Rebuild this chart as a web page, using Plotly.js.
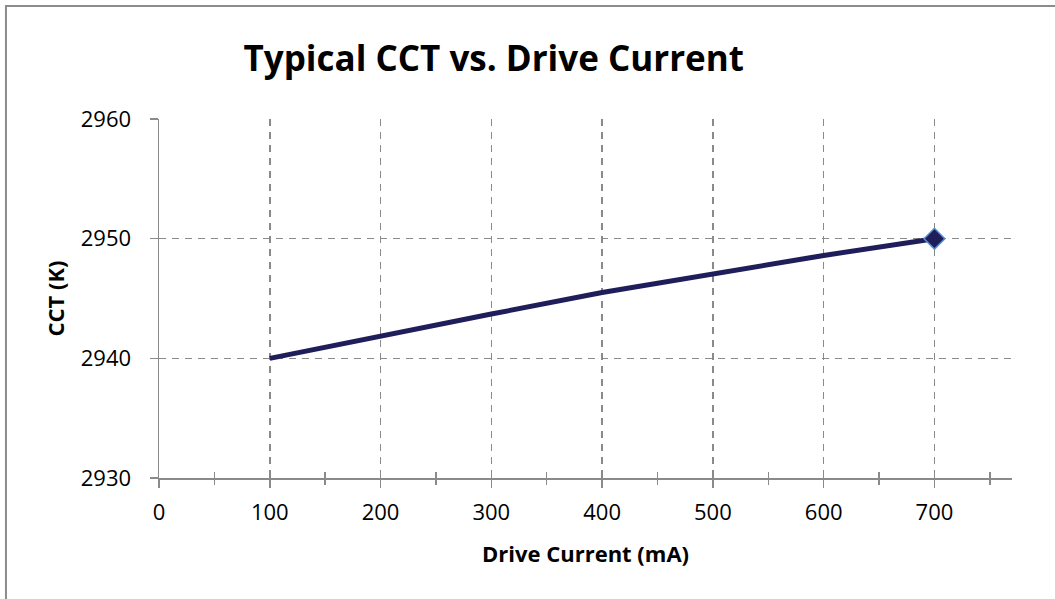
<!DOCTYPE html>
<html>
<head>
<meta charset="utf-8">
<script src="https://cdn.plot.ly/plotly-3.0.1.min.js"></script>
<style>html,body{margin:0;padding:0;background:#fff;}#chart{width:1055px;height:599px;}</style>
</head>
<body>
<div id="chart"></div>
<script>
const driveCurrent = [100, 200, 300, 400, 500, 600, 700];
const cct = [2940, 2941.9, 2943.7, 2945.5, 2947.1, 2948.6, 2950];
const xTickVals = [0, 100, 200, 300, 400, 500, 600, 700];
const yTickVals = [2930, 2940, 2950, 2960];
const titleText = 'Typical CCT vs. Drive Current';
const xTitle = 'Drive Current (mA)';
const yTitle = 'CCT (K)';

const FONT = 'Open Sans, Noto Sans, sans-serif';
const GRID = '#8A8A8A';
const last = driveCurrent.length - 1;

const traces = [
  {x: driveCurrent, y: cct, type: 'scatter', mode: 'lines',
   line: {color: '#1F1D5A', width: 5}, hoverinfo: 'skip', showlegend: false},
  {x: [driveCurrent[last]], y: [cct[last]], type: 'scatter', mode: 'markers',
   marker: {symbol: 'diamond', size: 16, color: '#1F1D5A', line: {color: '#5B8FCF', width: 1.5}},
   hoverinfo: 'skip', showlegend: false},
  {x: driveCurrent, y: cct, xaxis: 'x2', yaxis: 'y2', type: 'scatter', mode: 'lines',
   opacity: 0, hoverinfo: 'skip', showlegend: false}
];

const axisCommon = {linecolor: GRID, linewidth: 1.5, zeroline: false, showline: true};

const layout = {
  width: 1055, height: 599,
  paper_bgcolor: '#fff', plot_bgcolor: '#fff',
  margin: {l: 159, r: 43, t: 119, b: 121, pad: 0},
  showlegend: false,
  title: {text: '<b>' + titleText + '</b>', font: {family: FONT, size: 35, color: '#000'},
          x: 0.468, xref: 'container', xanchor: 'center', y: 0.902, yref: 'container', yanchor: 'middle'},
  xaxis: Object.assign({}, axisCommon, {
    range: [0, 770], tickvals: xTickVals, ticktext: xTickVals.map(String),
    ticks: 'outside', ticklen: 8, tickcolor: GRID, tickwidth: 1.5,
    minor: {ticks: 'outside', ticklen: 5, tickcolor: GRID, tickwidth: 1.5, dtick: 50, tick0: 0, showgrid: false},
    showgrid: true, gridcolor: GRID, gridwidth: 1.5, griddash: '7px,6px',
    tickfont: {family: FONT, size: 22, color: '#000'},
    ticklabelstandoff: 6,
    title: {text: '<b>' + xTitle + '</b>', font: {family: FONT, size: 22, color: '#000'}, standoff: 21}
  }),
  yaxis: Object.assign({}, axisCommon, {
    range: [2930, 2960], tickvals: yTickVals, ticktext: yTickVals.map(String),
    ticks: 'outside', ticklen: 8, tickcolor: GRID, tickwidth: 1.5,
    showgrid: true, gridcolor: GRID, gridwidth: 1.5, griddash: '7px,6px',
    tickfont: {family: FONT, size: 22, color: '#000'},
    ticklabelstandoff: 14,
    title: {text: '<b>' + yTitle + '</b>', font: {family: FONT, size: 22, color: '#000'}, standoff: 10}
  }),
  xaxis2: {overlaying: 'x', matches: 'x', anchor: 'y2', showline: false, showgrid: false, zeroline: false,
    tickvals: xTickVals, showticklabels: false, ticks: 'inside', ticklen: 6, tickcolor: GRID, tickwidth: 1.5,
    minor: {ticks: 'inside', ticklen: 6, tickcolor: GRID, tickwidth: 1.5, dtick: 50, tick0: 0, showgrid: false}},
  yaxis2: {overlaying: 'y', matches: 'y', anchor: 'x2', showline: false, showgrid: false, zeroline: false,
    tickvals: yTickVals, showticklabels: false, ticks: 'inside', ticklen: 3, tickcolor: GRID, tickwidth: 1.5},
  shapes: [
    {type: 'rect', xref: 'paper', yref: 'paper', x0: -0.1794, x1: 1.07, y0: -0.37, y1: 1.3148,
     line: {color: '#8C8C8C', width: 2}, fillcolor: 'rgba(0,0,0,0)', layer: 'below'}
  ]
};

Plotly.newPlot('chart', traces, layout, {displayModeBar: false, staticPlot: true});
</script>
</body>
</html>
